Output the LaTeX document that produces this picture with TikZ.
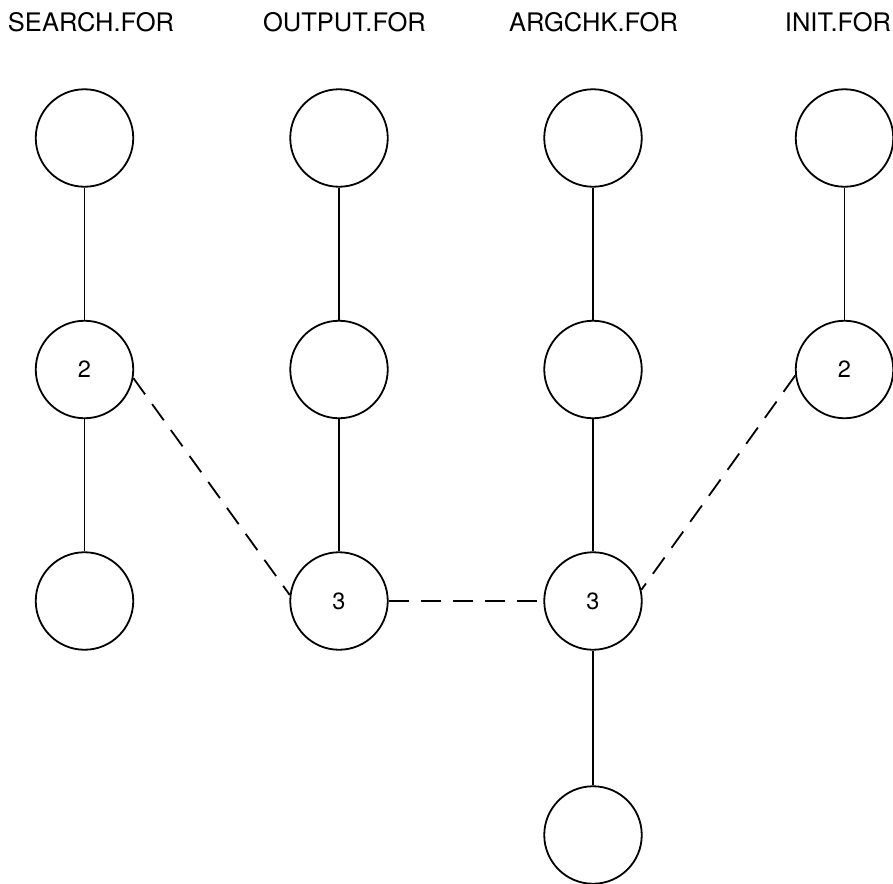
\documentclass[tikz,border=0pt]{standalone}
\usepackage{fontspec}
\setmainfont{TeX Gyre Heros}
\begin{document}
\begin{tikzpicture}[x=1pt,y=-1pt,
  mod/.style={circle,draw,line width=1.8pt,minimum size=97.5pt,inner sep=0pt,font=\fontsize{23.5}{26}\selectfont},
  title/.style={anchor=base,inner sep=0pt,font=\fontsize{25.5}{28}\selectfont},
  link/.style={line width=1.8pt},
  dep/.style={line width=1.8pt,dash pattern=on 20pt off 12pt}]
\useasboundingbox (0,0) rectangle (893,883);
% titles
\node[title] (t1) at (91,31.7) {SEARCH.FOR};
\node[title] (t2) at (344.5,31.7) {OUTPUT.FOR};
\node[title] (t3) at (593.5,31.7) {ARGCHK.FOR};
\node[title] (t4) at (838,31.7) {INIT.FOR};
% SEARCH column
\node[mod] (s1) at (84.5,138) {};
\node[mod] (s2) at (84.5,369.5) {2};
\node[mod] (s3) at (84.5,601) {};
% OUTPUT column
\node[mod] (o1) at (339,138) {};
\node[mod] (o2) at (339,369.5) {};
\node[mod] (o3) at (339,601) {3};
% ARGCHK column
\node[mod] (a1) at (593,138) {};
\node[mod] (a2) at (593,369.5) {};
\node[mod] (a3) at (593,601) {3};
\node[mod] (a4) at (593,835) {};
% INIT column
\node[mod] (i1) at (844.5,138) {};
\node[mod] (i2) at (844.5,369.5) {2};
% solid links
\draw[link] (s1) -- (s2);
\draw[link] (s2) -- (s3);
\draw[link] (o1) -- (o2);
\draw[link] (o2) -- (o3);
\draw[link] (a1) -- (a2);
\draw[link] (a2) -- (a3);
\draw[link] (a3) -- (a4);
\draw[link] (i1) -- (i2);
% dashed links
\draw[dep] (s2.-10) -- (o3.173);
\draw[dep] (o3.east) -- (a3.west);
\draw[dep] (i2.187) -- (a3.13);
\end{tikzpicture}
\end{document}
